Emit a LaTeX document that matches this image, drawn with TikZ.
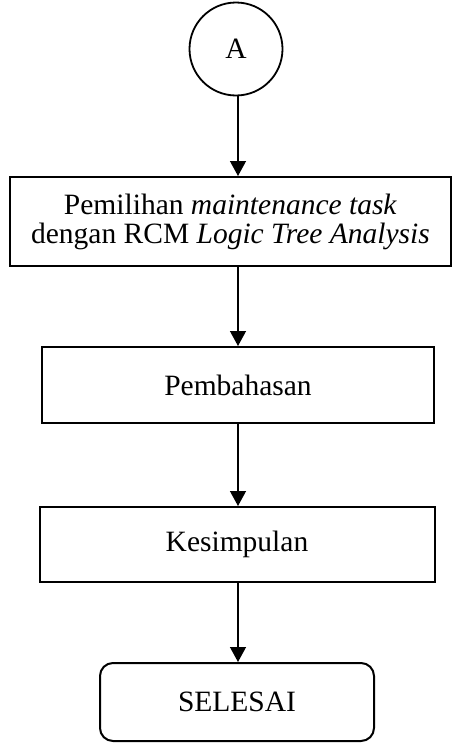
\documentclass[tikz,border=0pt]{standalone}
\usepackage{fontspec}
\setmainfont{Liberation Serif}
\usetikzlibrary{arrows.meta}
\begin{document}
\begin{tikzpicture}[x=1pt,y=-1pt,
  txt/.style={font=\fontsize{29.5}{29}\selectfont, align=center, inner sep=0pt},
  procbox/.style={txt, draw, line width=2pt, rectangle},
  termbox/.style={txt, draw, line width=2pt, rectangle, rounded corners=13pt},
  conn/.style={circle, draw, line width=1.8pt, txt, minimum size=93pt},
  flow/.style={draw, line width=1.3pt, -{Triangle[width=16pt,length=15pt]}}]
\useasboundingbox (0,0) rectangle (453,744);
\node[conn] (A) at (236,49) {A};
\node[procbox, minimum width=441pt, minimum height=89pt] (b1) at (230.5,221.5)
  {Pemilihan \textit{maintenance task}\\dengan RCM \textit{Logic Tree Analysis}};
\node[procbox, minimum width=392pt, minimum height=76pt] (b2) at (238,385) {Pembahasan};
\node[procbox, minimum width=395pt, minimum height=75pt] (b3) at (237,544.5) {Kesimpulan};
\node[termbox, minimum width=274pt, minimum height=78pt] (end) at (237,702) {SELESAI};
\coordinate (x1) at (238,0);
\draw[flow] (A.south -| x1) -- (b1.north -| x1);
\draw[flow] (b1.south -| x1) -- (b2.north -| x1);
\draw[flow] (b2.south -| x1) -- (b3.north -| x1);
\draw[flow] (b3.south -| x1) -- (end.north -| x1);
\end{tikzpicture}
\end{document}
